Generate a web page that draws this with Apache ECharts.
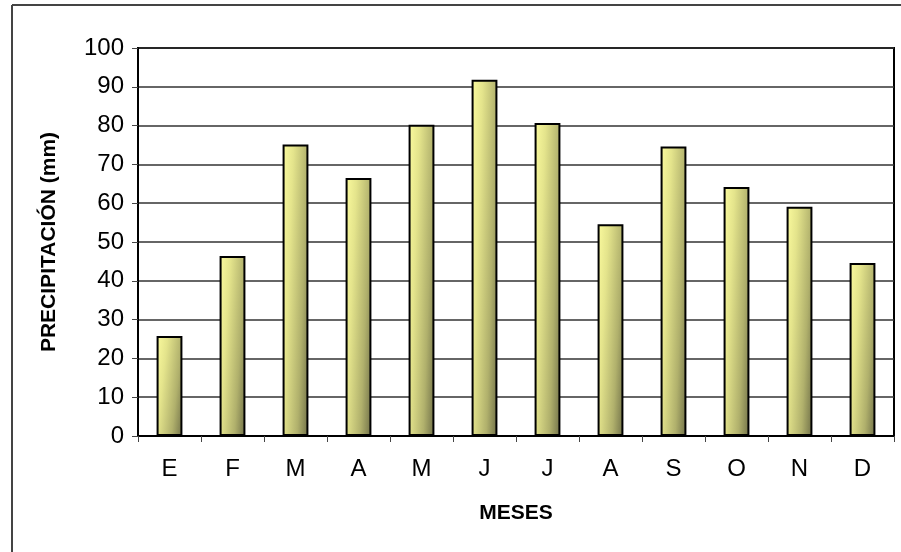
<!DOCTYPE html>
<html>
<head>
<meta charset="utf-8">
<script src="https://cdn.jsdelivr.net/npm/echarts@6/dist/echarts.min.js"></script>
<style>
  html, body { margin: 0; padding: 0; background: #fff; }
  #chart { width: 901px; height: 552px; }
</style>
</head>
<body>
<div id="chart"></div>
<script>
// Monthly precipitation (mm)
const months = ['E', 'F', 'M', 'A', 'M', 'J', 'J', 'A', 'S', 'O', 'N', 'D'];
const precipitation = [25.8, 46.4, 75.1, 66.5, 80.2, 91.8, 80.7, 54.6, 74.6, 64.2, 59.1, 44.6];
const yTicks = { min: 0, max: 100, step: 10 };

const chart = echarts.init(document.getElementById('chart'), null, { renderer: 'canvas' });

// Mostly horizontal shading with a light top-to-bottom darkening.
// The vertical component of the gradient vector is scaled by the bar's
// height so every bar gets the same shading regardless of its length.
function barFill(value) {
  const y2 = 27.5 / (value * value);
  return new echarts.graphic.LinearGradient(0, 0, 1.43, y2, [
    { offset: 0, color: '#fbfb9e' },
    { offset: 0.3, color: '#e4e48c' },
    { offset: 0.7, color: '#b0b06c' },
    { offset: 1, color: '#707048' }
  ]);
}

chart.setOption({
  backgroundColor: '#ffffff',
  animation: false,
  graphic: [
    { type: 'line', shape: { x1: 12, y1: 5, x2: 12, y2: 552 }, style: { stroke: '#444', lineWidth: 2 } },
    { type: 'line', shape: { x1: 12, y1: 5, x2: 901, y2: 5 }, style: { stroke: '#444', lineWidth: 2 } }
  ],
  grid: {
    left: 138, top: 48, right: 7, bottom: 116,
    show: true, borderColor: '#000', borderWidth: 2, backgroundColor: 'transparent'
  },
  xAxis: {
    type: 'category',
    data: months,
    boundaryGap: true,
    name: 'MESES',
    nameLocation: 'middle',
    nameGap: 67,
    nameTextStyle: { fontFamily: 'Liberation Sans', fontWeight: 'bold', fontSize: 21, color: '#000' },
    axisLine: { lineStyle: { color: '#000', width: 2 } },
    axisTick: { show: true, alignWithLabel: false, length: 6, lineStyle: { color: '#444', width: 1 } },
    axisLabel: { fontFamily: 'Liberation Sans', fontSize: 24, color: '#000', margin: 21 }
  },
  yAxis: {
    type: 'value',
    min: yTicks.min, max: yTicks.max, interval: yTicks.step,
    name: 'PRECIPITACIÓN (mm)',
    nameLocation: 'middle',
    nameGap: 78,
    nameRotate: 90,
    nameTextStyle: { fontFamily: 'Liberation Sans', fontWeight: 'bold', fontSize: 21, color: '#000' },
    axisLine: { show: true, lineStyle: { color: '#000', width: 2 } },
    axisTick: { show: true, length: 6, lineStyle: { color: '#444', width: 1 } },
    axisLabel: { fontFamily: 'Liberation Sans', fontSize: 24, color: '#000', margin: 14 },
    splitLine: { show: true, lineStyle: { color: '#333', width: 1.5 } }
  },
  series: [{
    type: 'bar',
    data: precipitation.map(v => ({ value: v, itemStyle: { color: barFill(v) } })),
    barWidth: '41%',
    itemStyle: { borderColor: '#000', borderWidth: 2 }
  }]
});
</script>
</body>
</html>
